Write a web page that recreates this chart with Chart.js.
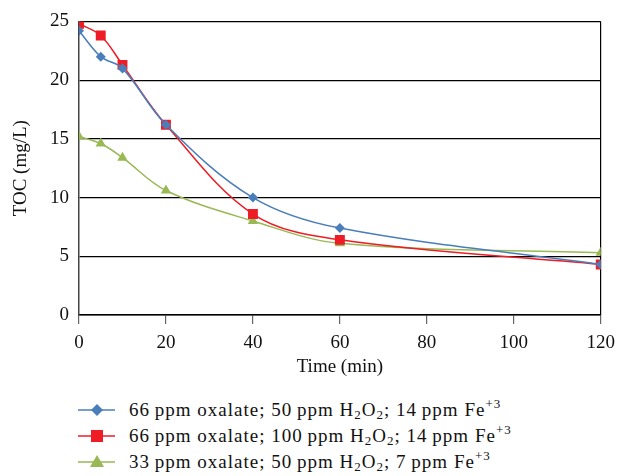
<!DOCTYPE html><html lang="en">
<head>
  <meta charset="UTF-8" />
  <title>TOC vs time</title>
  <style>
    body { margin:0; background:#fff; width:619px; height:476px; overflow:hidden; font-family:"Liberation Serif", serif; }
    #wrap { position:absolute; left:0; top:0; width:619px; height:385px; overflow:hidden; }
    #legend { position:absolute; left:78px; top:397px; font-size:19px; letter-spacing:1px; color:#111; }
    .row { height:26px; line-height:26px; white-space:nowrap; }
    .row svg { vertical-align:middle; margin-right:14px; position:relative; top:-2px; }
    sub { font-size:13px; vertical-align:-3px; line-height:0; }
    sup { font-size:13px; vertical-align:8px; line-height:0; }
  </style>
  <script src="https://cdn.jsdelivr.net/npm/chart.js"></script>
</head>
<body>
<div id="wrap"><canvas id="c" width="623" height="385"></canvas></div>
<div id="legend"></div>
<script>
  // data
  const times = [0, 5, 10, 20, 40, 60, 120];
  const tocA = [24.2, 22.0, 21.0, 16.2, 10.0, 7.4, 4.3];
  const tocB = [24.8, 23.8, 21.3, 16.2, 8.6, 6.4, 4.3];
  const tocC = [15.2, 14.6, 13.4, 10.6, 8.0, 6.1, 5.3];
  const labelsHtml = [
    '66\u2009ppm oxalate; 50\u2009ppm H<sub>2</sub>O<sub>2</sub>; 14\u2009ppm Fe<sup>+3</sup>',
    '66\u2009ppm oxalate; 100\u2009ppm H<sub>2</sub>O<sub>2</sub>; 14\u2009ppm Fe<sup>+3</sup>',
    '33\u2009ppm oxalate; 50\u2009ppm H<sub>2</sub>O<sub>2</sub>; 7\u2009ppm Fe<sup>+3</sup>'
  ];
  const colors = ['#4a7ebb', '#ee1c25', '#98b954'];
  const markers = ['rectRot', 'rect', 'triangle'];
  const markerSize = [5, 7, 6];
  const series = [tocA, tocB, tocC];

  const font = { family: '"Liberation Serif", serif', size: 19 };
  const datasets = series.map((s, i) => ({
    label: 'S' + i,
    data: times.map((t, j) => ({ x: t, y: s[j] })),
    borderColor: colors[i], backgroundColor: colors[i],
    borderWidth: 1.5, tension: 0.35,
    pointStyle: markers[i], pointRadius: markerSize[i], pointBorderWidth: 0
  }));

  // slightly wider lettering, closer to the original typeface
  const spacing = { id: 'spacing', beforeInit: ch => { ch.ctx.letterSpacing = '1px'; } };

  new Chart(document.getElementById('c'), {
    type: 'line',
    data: { datasets },
    plugins: [spacing],
    options: {
      responsive: false, animation: false,
      layout: { padding: { top: 12, right: 18, left: 0, bottom: 0 } },
      plugins: { legend: { display: false }, tooltip: { enabled: false } },
      scales: {
        x: {
          type: 'linear', min: 0, max: 120,
          ticks: { stepSize: 20, color: '#111', font, padding: 8 },
          grid: { color: c => c.tick && c.tick.value === 120 ? '#000' : 'rgba(0,0,0,0)', tickColor: '#666', tickLength: 9, lineWidth: 1.2 },
          border: { color: '#000', width: 1.5 },
          title: { display: true, text: 'Time (min)', color: '#111', font, padding: { top: 0, bottom: 7 } },
          afterFit: s => { s.height = 70; }
        },
        y: {
          min: 0, max: 25,
          ticks: { stepSize: 5, color: '#111', font, padding: 10 },
          grid: { color: '#000', drawTicks: false, lineWidth: 1.2 },
          border: { color: '#444', width: 1.5 },
          title: { display: true, text: 'TOC (mg/L)', color: '#111', font, padding: { top: 10, bottom: 4 } },
          afterFit: s => { s.width = 79; }
        }
      }
    }
  });

  // legend below the plot: line with marker, then the label
  function markerSvg(i) {
    const c = colors[i];
    let shape;
    if (markers[i] === 'rectRot') shape = `<polygon points="19,4 25,10 19,16 13,10" fill="${c}"/>`;
    else if (markers[i] === 'rect') shape = `<rect x="13" y="4" width="12" height="12" fill="${c}"/>`;
    else shape = `<polygon points="19,3 26,15 12,15" fill="${c}"/>`;
    return `<svg width="37" height="20"><line x1="0" y1="10" x2="37" y2="10" stroke="${c}" stroke-width="1.5"/>${shape}</svg>`;
  }
  document.getElementById('legend').innerHTML = labelsHtml.map((h, i) => `<div class="row">${markerSvg(i)}${h}</div>`).join('');
</script>
</body>
</html>
